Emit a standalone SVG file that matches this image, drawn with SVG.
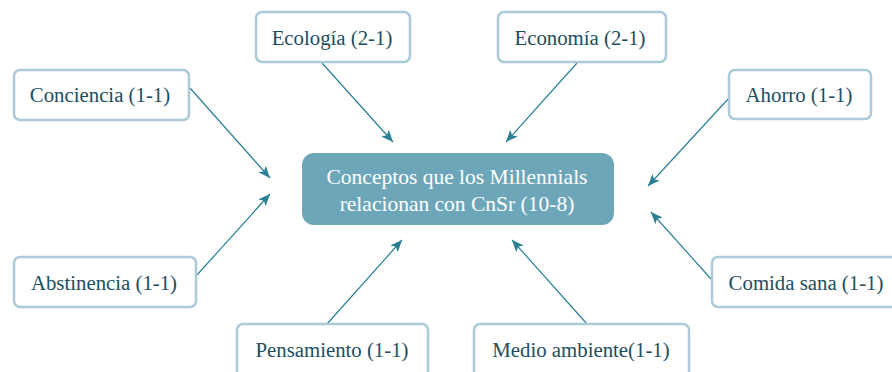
<svg xmlns="http://www.w3.org/2000/svg" width="892" height="372" viewBox="0 0 892 372">
<defs>
<style>
.box{fill:#fff;stroke:#abcbd8;stroke-width:2.5}
.lbl{font-family:"Liberation Serif","DejaVu Serif",serif;font-size:20.8px;fill:#1c4e5f;text-anchor:middle}
.ctr{fill:#6da6b9}
.ctxt{font-family:"Liberation Serif","DejaVu Serif",serif;font-size:21.5px;fill:#ffffff;text-anchor:middle}
.con{stroke:#2a7f93;stroke-width:1.2;fill:none;marker-end:url(#ah)}
</style>
<marker id="ah" viewBox="0 0 12 10" refX="12" refY="5" markerWidth="12" markerHeight="10" markerUnits="userSpaceOnUse" orient="auto">
<path d="M0,0 L12,5 L0,10 L3,5 Z" fill="#2a7f93"/>
</marker>
</defs>
<g id="connectors">
<line class="con" x1="190" y1="88" x2="270" y2="178"/>
<line class="con" x1="322" y1="63" x2="393" y2="142"/>
<line class="con" x1="577" y1="63" x2="506" y2="142"/>
<line class="con" x1="729" y1="98" x2="648" y2="186"/>
<line class="con" x1="197" y1="275" x2="270" y2="194"/>
<line class="con" x1="327" y1="324" x2="402" y2="240"/>
<line class="con" x1="587" y1="324" x2="512" y2="240"/>
<line class="con" x1="711" y1="279" x2="651" y2="212"/>
</g>
<g id="central">
<rect class="ctr" x="302" y="153" width="312" height="72" rx="12"/>
<text class="ctxt" x="457" y="184">Conceptos que los Millennials</text>
<text class="ctxt" x="457" y="211">relacionan con CnSr (10-8)</text>
</g>
<g id="ecologia">
<rect class="box" x="256" y="12" width="154" height="50" rx="6"/>
<text class="lbl" x="332" y="45">Ecología (2-1)</text>
</g>
<g id="economia">
<rect class="box" x="498" y="12" width="168" height="50" rx="6"/>
<text class="lbl" x="580" y="45">Economía (2-1)</text>
</g>
<g id="conciencia">
<rect class="box" x="14" y="70" width="175" height="50" rx="6"/>
<text class="lbl" x="100" y="102">Conciencia (1-1)</text>
</g>
<g id="ahorro">
<rect class="box" x="729" y="70" width="142" height="49" rx="6"/>
<text class="lbl" x="799" y="102">Ahorro (1-1)</text>
</g>
<g id="abstinencia">
<rect class="box" x="14" y="257" width="182" height="50" rx="6"/>
<text class="lbl" x="104" y="290">Abstinencia (1-1)</text>
</g>
<g id="comida">
<rect class="box" x="712" y="257" width="190" height="50" rx="6"/>
<text class="lbl" x="806" y="290">Comida sana (1-1)</text>
</g>
<g id="pensamiento">
<rect class="box" x="237" y="324" width="191" height="60" rx="6"/>
<text class="lbl" x="332" y="357">Pensamiento (1-1)</text>
</g>
<g id="medio">
<rect class="box" x="474" y="324" width="215" height="60" rx="6"/>
<text class="lbl" x="581" y="357">Medio ambiente(1-1)</text>
</g>
</svg>
